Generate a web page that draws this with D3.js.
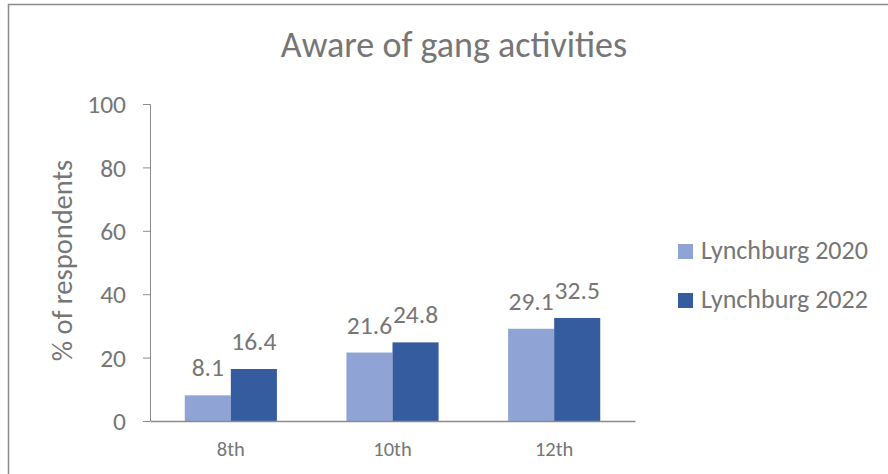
<!DOCTYPE html>
<html>
<head>
<meta charset="utf-8">
<script src="https://cdn.jsdelivr.net/npm/d3@7"></script>
<style>
  body { margin: 0; background: #fff; }
  text { font-family: Calibri, Carlito, Lato, sans-serif; }
</style>
</head>
<body>
<div class="chart"></div>
<script>
var svgWidth = 888;
var svgHeight = 474;

// chart data
var grades = ["8th", "10th", "12th"];
var seriesNames = ["Lynchburg 2020", "Lynchburg 2022"];
var values2020 = [8.1, 21.6, 29.1];
var values2022 = [16.4, 24.8, 32.5];
var yTicks = [0, 20, 40, 60, 80, 100];

var colors = ["#8FA4D4", "#345C9F"];
var grey = "#767676";
var lineGrey = "#8c8c8c";

var margin = { top: 104, left: 150 };
var width = 485;
var height = 317;

var svg = d3.select(".chart")
  .append("svg")
  .attr("width", svgWidth)
  .attr("height", svgHeight);

// outer border (right and bottom edges fall outside the picture)
svg.append("rect")
  .attr("x", 8.5)
  .attr("y", 4.5)
  .attr("width", 900)
  .attr("height", 500)
  .attr("fill", "#fff")
  .attr("stroke", lineGrey)
  .attr("stroke-width", 1.5);

svg.append("text")
  .attr("x", 454)
  .attr("y", 57)
  .attr("text-anchor", "middle")
  .attr("font-size", 36)
  .attr("fill", grey)
  .text("Aware of gang activities");

var chartGroup = svg.append("g")
  .attr("transform", `translate(${margin.left}, ${margin.top})`);

var x0 = d3.scaleBand()
  .domain(grades)
  .range([0, width])
  .paddingInner(0.43)
  .paddingOuter(0.215);

var x1 = d3.scaleBand()
  .domain(seriesNames)
  .range([0, x0.bandwidth()]);

var y = d3.scaleLinear()
  .domain([0, 100])
  .range([height, 0]);

// y axis
var leftAxis = d3.axisLeft(y).tickValues(yTicks).tickSize(7).tickPadding(17);
var yAxis = chartGroup.append("g").call(leftAxis);
yAxis.select(".domain").attr("stroke", lineGrey).attr("d", `M-7,0.5H0.5V${height}`);
yAxis.selectAll(".tick line").attr("stroke", lineGrey);
yAxis.selectAll(".tick text")
  .attr("font-size", 25.5)
  .attr("fill", grey)
  .attr("dy", "0.34em");

chartGroup.append("text")
  .attr("transform", "rotate(-90)")
  .attr("x", -height / 2 + 2)
  .attr("y", -78)
  .attr("text-anchor", "middle")
  .attr("font-size", 28.5)
  .attr("fill", grey)
  .text("% of respondents");

// bars
var rows = grades.map((g, i) => ({ grade: g, vals: [values2020[i], values2022[i]] }));

var groups = chartGroup.selectAll(".grade")
  .data(rows)
  .enter()
  .append("g")
  .attr("transform", d => `translate(${x0(d.grade)}, 0)`);

groups.selectAll("rect")
  .data(d => d.vals.map((v, j) => ({ name: seriesNames[j], value: v, j: j })))
  .enter()
  .append("rect")
  .attr("x", d => x1(d.name))
  .attr("y", d => y(d.value))
  .attr("width", x1.bandwidth())
  .attr("height", d => height - y(d.value))
  .attr("fill", d => colors[d.j]);

// value labels
groups.selectAll(".val")
  .data(d => d.vals.map((v, j) => ({ name: seriesNames[j], value: v, j: j })))
  .enter()
  .append("text")
  .attr("class", "val")
  .attr("x", d => x1(d.name) + x1.bandwidth() / 2)
  .attr("y", d => y(d.value) - 19)
  .attr("text-anchor", "middle")
  .attr("font-size", 25.5)
  .attr("fill", grey)
  .text(d => d.value.toFixed(1));

// x axis
var bottomAxis = d3.axisBottom(x0).tickSize(0).tickPadding(20);
var xAxis = chartGroup.append("g")
  .attr("transform", `translate(0, ${height})`)
  .call(bottomAxis);
xAxis.select(".domain").attr("stroke", lineGrey).attr("stroke-width", 1.5);
xAxis.selectAll(".tick text")
  .attr("font-size", 20.5)
  .attr("fill", grey);

// legend
var legend = svg.append("g")
  .attr("transform", "translate(678, 244)");

var items = legend.selectAll("g")
  .data(seriesNames)
  .enter()
  .append("g")
  .attr("transform", (d, i) => `translate(0, ${i * 49})`);

items.append("rect")
  .attr("width", 15)
  .attr("height", 15)
  .attr("fill", (d, i) => colors[i]);

items.append("text")
  .attr("x", 23)
  .attr("y", 15)
  .attr("font-size", 26)
  .attr("fill", grey)
  .text(d => d);
</script>
</body>
</html>
